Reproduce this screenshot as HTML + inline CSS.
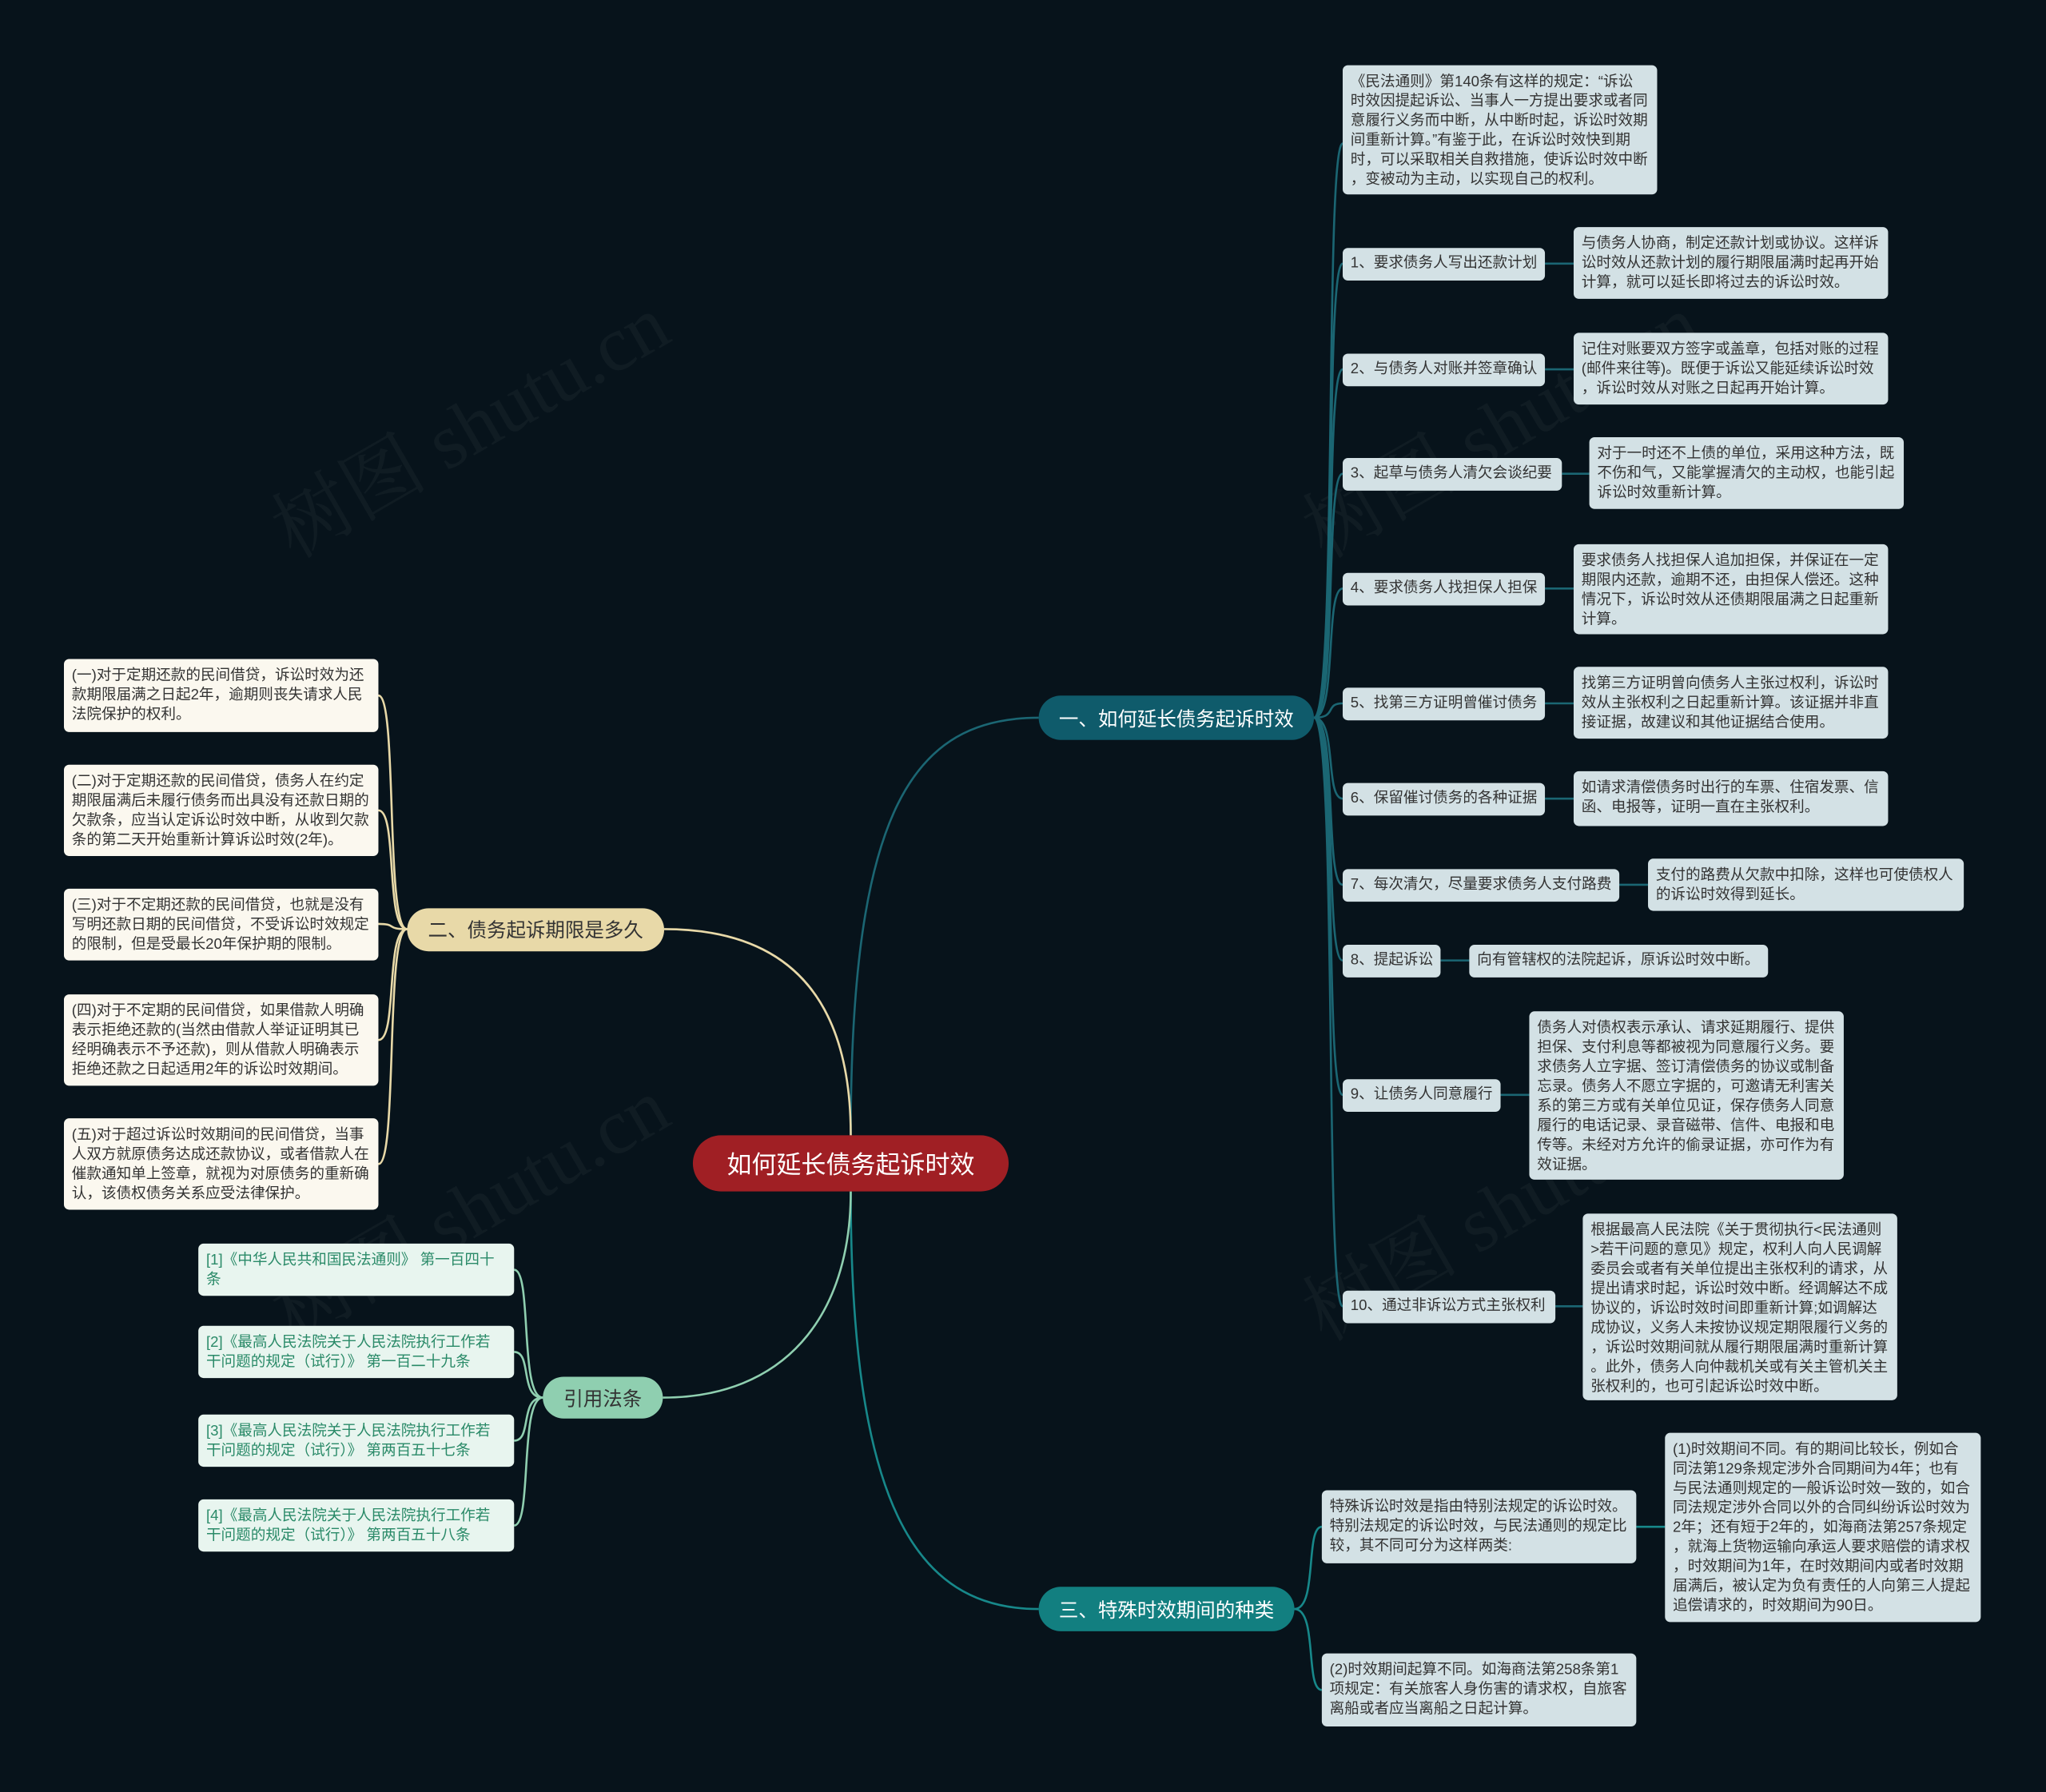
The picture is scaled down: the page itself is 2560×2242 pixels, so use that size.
<!DOCTYPE html>
<html><head><meta charset="utf-8"><style>
html,body{margin:0;padding:0;background:#07131b;}
body{width:2560px;height:2241px;overflow:hidden;}
#w{position:absolute;left:0;top:0;width:1568px;height:1373px;transform:scale(1.63265);transform-origin:0 0;font-family:"Liberation Sans","Noto Sans CJK SC",sans-serif;}
.b{position:absolute;box-sizing:border-box;border-radius:4px;font-size:11.4px;line-height:15px;padding:6px 6px 4px 6px;white-space:nowrap;color:#333;}
.r{background:#d3e1e5;}
.c{background:#fbf8ef;}
.g{background:#e8f5ef;color:#2a8a68;}
.lb{display:flex;align-items:center;padding-top:5px;padding-bottom:5px;}
.m{position:absolute;box-sizing:border-box;border-radius:18px;display:flex;align-items:center;justify-content:center;font-size:15px;white-space:nowrap;}
svg{position:absolute;left:0;top:0;}
.wm{position:absolute;font-size:60px;color:rgba(255,255,255,0.04);transform:rotate(-30deg);font-family:"Liberation Serif","Noto Serif CJK SC",serif;white-space:nowrap;}
</style></head><body><div id="w">
<div class="wm" style="left:190px;top:280px;">树图 shutu.cn</div>
<div class="wm" style="left:980px;top:280px;">树图 shutu.cn</div>
<div class="wm" style="left:190px;top:880px;">树图 shutu.cn</div>
<div class="wm" style="left:980px;top:880px;">树图 shutu.cn</div>
<svg width="1568" height="1373" fill="none">
<g stroke="#1b6673" stroke-width="1.6">
<path d="M652,870 C652,620 700,550 796,550"/>
<path d="M1007,550 C1025,550 1015,110 1029,110"/>
<path d="M1007,550 C1025,550 1015,202 1029,202"/>
<path d="M1007,550 C1025,550 1015,283 1029,283"/>
<path d="M1007,550 C1025,550 1015,363 1029,363"/>
<path d="M1007,550 C1025,550 1015,451 1029,451"/>
<path d="M1007,550 C1025,550 1015,539 1029,539"/>
<path d="M1007,550 C1025,550 1015,612 1029,612"/>
<path d="M1007,550 C1025,550 1015,678 1029,678"/>
<path d="M1007,550 C1025,550 1015,736 1029,736"/>
<path d="M1007,550 C1025,550 1015,839 1029,839"/>
<path d="M1007,550 C1025,550 1015,1001 1029,1001"/>
<path d="M1184,202 H1206 M1184,283 H1206 M1197,363 H1218 M1184,451 H1206 M1184,539 H1206 M1184,612 H1206 M1241,678 H1263 M1104,736 H1126 M1150,839 H1172 M1192,1001 H1213"/>
</g>
<g stroke="#17888a" stroke-width="1.6">
<path d="M652,913 C652,1150 700,1233 796,1233"/>
<path d="M992,1233 C1010,1233 1000,1170 1013,1170"/>
<path d="M992,1233 C1010,1233 1000,1295 1013,1295"/>
<path d="M1254,1170 H1276"/>
</g>
<g stroke="#e8d9a8" stroke-width="1.6">
<path d="M652,870 C652,760 600,712 509,712"/>
<path d="M312,712 C295,712 305,533 290,533"/>
<path d="M312,712 C295,712 305,621 290,621"/>
<path d="M312,712 C295,712 305,708 290,708"/>
<path d="M312,712 C295,712 305,797 290,797"/>
<path d="M312,712 C295,712 305,892 290,892"/>
</g>
<g stroke="#8fcfb0" stroke-width="1.6">
<path d="M652,913 C652,1010 600,1071 508,1071"/>
<path d="M416,1071 C398,1071 408,973 394,973"/>
<path d="M416,1071 C398,1071 408,1036 394,1036"/>
<path d="M416,1071 C398,1071 408,1104 394,1104"/>
<path d="M416,1071 C398,1071 408,1169 394,1169"/>
</g>
</svg>

<div class="m" style="left:531px;top:870px;width:242px;height:43px;background:#a01f24;color:#fff;font-size:19px;border-radius:22px;">如何延长债务起诉时效</div>
<div class="m" style="left:796px;top:533px;width:211px;height:34px;background:#0f5b6b;color:#fff;">一、如何延长债务起诉时效</div>
<div class="m" style="left:312px;top:696px;width:197px;height:33px;background:#e8d9a8;color:#333;">二、债务起诉期限是多久</div>
<div class="m" style="left:796px;top:1216px;width:196px;height:34px;background:#127f80;color:#fff;">三、特殊时效期间的种类</div>
<div class="m" style="left:416px;top:1055px;width:92px;height:32px;background:#8fcfb0;color:#333;">引用法条</div>

<div class="b r" style="left:1029px;top:50px;width:241px;height:99px;">《民法通则》第140条有这样的规定：“诉讼<br>时效因提起诉讼、当事人一方提出要求或者同<br>意履行义务而中断，从中断时起，诉讼时效期<br>间重新计算。”有鉴于此，在诉讼时效快到期<br>时，可以采取相关自救措施，使诉讼时效中断<br>，变被动为主动，以实现自己的权利。</div>

<div class="b r lb" style="left:1029px;top:190px;width:155px;height:25px;">1、要求债务人写出还款计划</div>
<div class="b r" style="left:1206px;top:174px;width:241px;height:55px;">与债务人协商，制定还款计划或协议。这样诉<br>讼时效从还款计划的履行期限届满时起再开始<br>计算，就可以延长即将过去的诉讼时效。</div>

<div class="b r lb" style="left:1029px;top:271px;width:155px;height:25px;">2、与债务人对账并签章确认</div>
<div class="b r" style="left:1206px;top:255px;width:241px;height:55px;">记住对账要双方签字或盖章，包括对账的过程<br>(邮件来往等)。既便于诉讼又能延续诉讼时效<br>，诉讼时效从对账之日起再开始计算。</div>

<div class="b r lb" style="left:1029px;top:351px;width:168px;height:25px;">3、起草与债务人清欠会谈纪要</div>
<div class="b r" style="left:1218px;top:335px;width:241px;height:55px;">对于一时还不上债的单位，采用这种方法，既<br>不伤和气，又能掌握清欠的主动权，也能引起<br>诉讼时效重新计算。</div>

<div class="b r lb" style="left:1029px;top:439px;width:155px;height:25px;">4、要求债务人找担保人担保</div>
<div class="b r" style="left:1206px;top:417px;width:241px;height:69px;">要求债务人找担保人追加担保，并保证在一定<br>期限内还款，逾期不还，由担保人偿还。这种<br>情况下，诉讼时效从还债期限届满之日起重新<br>计算。</div>

<div class="b r lb" style="left:1029px;top:527px;width:155px;height:25px;">5、找第三方证明曾催讨债务</div>
<div class="b r" style="left:1206px;top:511px;width:241px;height:55px;">找第三方证明曾向债务人主张过权利，诉讼时<br>效从主张权利之日起重新计算。该证据并非直<br>接证据，故建议和其他证据结合使用。</div>

<div class="b r lb" style="left:1029px;top:600px;width:155px;height:25px;">6、保留催讨债务的各种证据</div>
<div class="b r" style="left:1206px;top:591px;width:241px;height:42px;">如请求清偿债务时出行的车票、住宿发票、信<br>函、电报等，证明一直在主张权利。</div>

<div class="b r lb" style="left:1029px;top:666px;width:212px;height:25px;">7、每次清欠，尽量要求债务人支付路费</div>
<div class="b r" style="left:1263px;top:658px;width:242px;height:40px;">支付的路费从欠款中扣除，这样也可使债权人<br>的诉讼时效得到延长。</div>

<div class="b r lb" style="left:1029px;top:724px;width:75px;height:25px;">8、提起诉讼</div>
<div class="b r lb" style="left:1126px;top:724px;width:229px;height:25px;">向有管辖权的法院起诉，原诉讼时效中断。</div>

<div class="b r lb" style="left:1029px;top:827px;width:121px;height:25px;">9、让债务人同意履行</div>
<div class="b r" style="left:1172px;top:775px;width:241px;height:129px;">债务人对债权表示承认、请求延期履行、提供<br>担保、支付利息等都被视为同意履行义务。要<br>求债务人立字据、签订清偿债务的协议或制备<br>忘录。债务人不愿立字据的，可邀请无利害关<br>系的第三方或有关单位见证，保存债务人同意<br>履行的电话记录、录音磁带、信件、电报和电<br>传等。未经对方允许的偷录证据，亦可作为有<br>效证据。</div>

<div class="b r lb" style="left:1029px;top:989px;width:163px;height:25px;">10、通过非诉讼方式主张权利</div>
<div class="b r" style="left:1213px;top:930px;width:241px;height:143px;">根据最高人民法院《关于贯彻执行&lt;民法通则<br>&gt;若干问题的意见》规定，权利人向人民调解<br>委员会或者有关单位提出主张权利的请求，从<br>提出请求时起，诉讼时效中断。经调解达不成<br>协议的，诉讼时效时间即重新计算;如调解达<br>成协议，义务人未按协议规定期限履行义务的<br>，诉讼时效期间就从履行期限届满时重新计算<br>。此外，债务人向仲裁机关或有关主管机关主<br>张权利的，也可引起诉讼时效中断。</div>

<div class="b r" style="left:1013px;top:1142px;width:241px;height:56px;">特殊诉讼时效是指由特别法规定的诉讼时效。<br>特别法规定的诉讼时效，与民法通则的规定比<br>较，其不同可分为这样两类:</div>
<div class="b r" style="left:1276px;top:1098px;width:242px;height:145px;">(1)时效期间不同。有的期间比较长，例如合<br>同法第129条规定涉外合同期间为4年；也有<br>与民法通则规定的一般诉讼时效一致的，如合<br>同法规定涉外合同以外的合同纠纷诉讼时效为<br>2年；还有短于2年的，如海商法第257条规定<br>，就海上货物运输向承运人要求赔偿的请求权<br>，时效期间为1年，在时效期间内或者时效期<br>届满后，被认定为负有责任的人向第三人提起<br>追偿请求的，时效期间为90日。</div>
<div class="b r" style="left:1013px;top:1267px;width:241px;height:56px;">(2)时效期间起算不同。如海商法第258条第1<br>项规定：有关旅客人身伤害的请求权，自旅客<br>离船或者应当离船之日起计算。</div>

<div class="b c" style="left:49px;top:505px;width:241px;height:56px;">(一)对于定期还款的民间借贷，诉讼时效为还<br>款期限届满之日起2年，逾期则丧失请求人民<br>法院保护的权利。</div>
<div class="b c" style="left:49px;top:586px;width:241px;height:70px;">(二)对于定期还款的民间借贷，债务人在约定<br>期限届满后未履行债务而出具没有还款日期的<br>欠款条，应当认定诉讼时效中断，从收到欠款<br>条的第二天开始重新计算诉讼时效(2年)。</div>
<div class="b c" style="left:49px;top:681px;width:241px;height:55px;">(三)对于不定期还款的民间借贷，也就是没有<br>写明还款日期的民间借贷，不受诉讼时效规定<br>的限制，但是受最长20年保护期的限制。</div>
<div class="b c" style="left:49px;top:762px;width:241px;height:70px;">(四)对于不定期的民间借贷，如果借款人明确<br>表示拒绝还款的(当然由借款人举证证明其已<br>经明确表示不予还款)，则从借款人明确表示<br>拒绝还款之日起适用2年的诉讼时效期间。</div>
<div class="b c" style="left:49px;top:857px;width:241px;height:70px;">(五)对于超过诉讼时效期间的民间借贷，当事<br>人双方就原债务达成还款协议，或者借款人在<br>催款通知单上签章，就视为对原债务的重新确<br>认，该债权债务关系应受法律保护。</div>

<div class="b g" style="left:152px;top:953px;width:242px;height:40px;">[1]《中华人民共和国民法通则》 第一百四十<br>条</div>
<div class="b g" style="left:152px;top:1016px;width:242px;height:40px;">[2]《最高人民法院关于人民法院执行工作若<br>干问题的规定（试行）》 第一百二十九条</div>
<div class="b g" style="left:152px;top:1084px;width:242px;height:40px;">[3]《最高人民法院关于人民法院执行工作若<br>干问题的规定（试行）》 第两百五十七条</div>
<div class="b g" style="left:152px;top:1149px;width:242px;height:40px;">[4]《最高人民法院关于人民法院执行工作若<br>干问题的规定（试行）》 第两百五十八条</div>
</div></body></html>
